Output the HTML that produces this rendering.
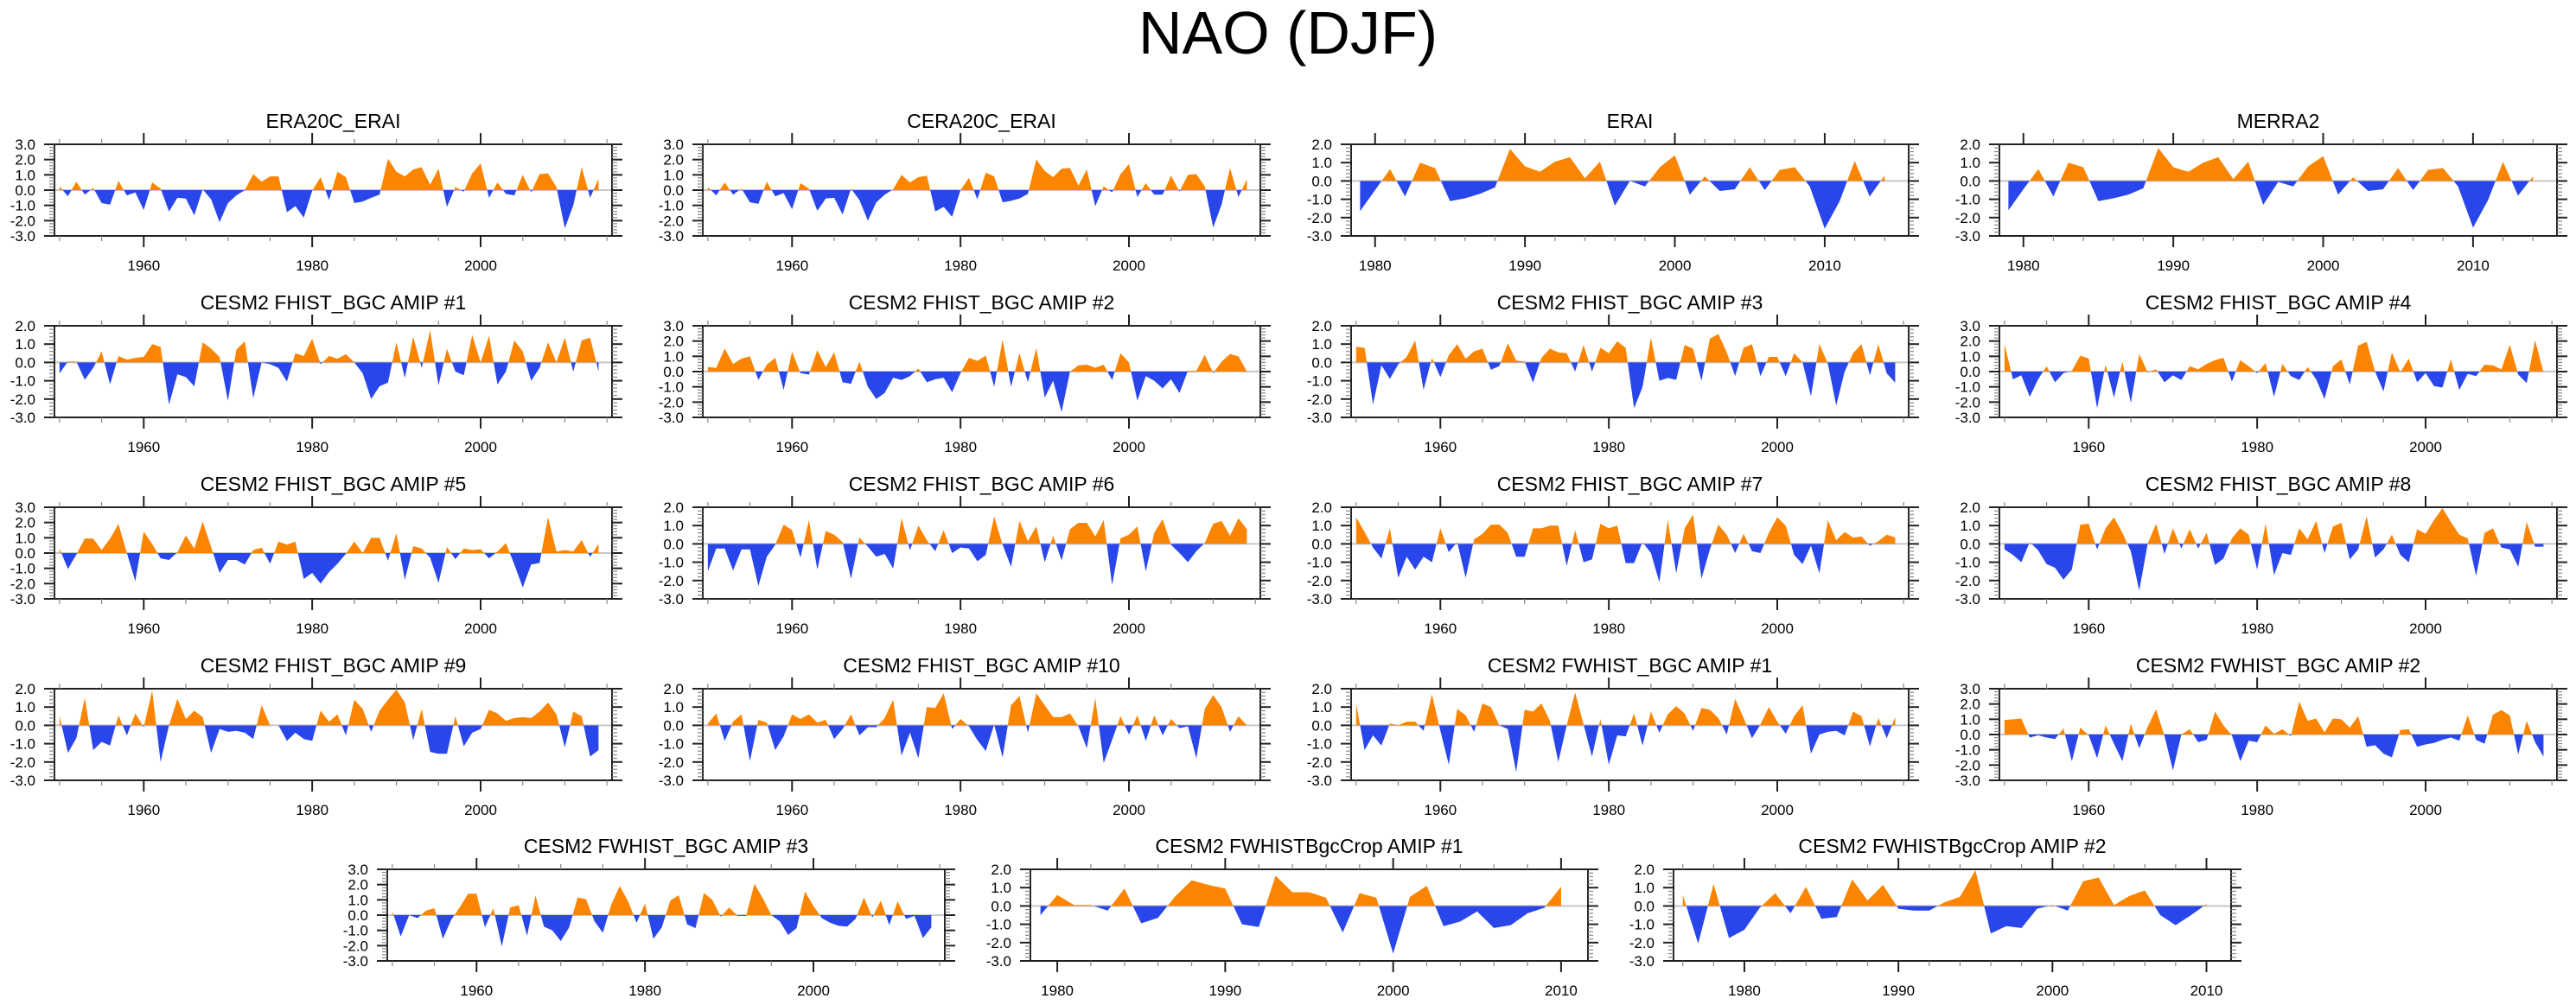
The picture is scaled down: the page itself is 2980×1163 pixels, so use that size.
<!DOCTYPE html>
<html><head><meta charset="utf-8">
<style>
html,body{margin:0;padding:0;background:#fff;}
svg{display:block;font-family:"Liberation Sans",Arial,sans-serif;}
</style></head>
<body>
<svg id="chart" width="2980" height="1163" viewBox="0 0 2980 1163" xmlns="http://www.w3.org/2000/svg">
<rect x="0" y="0" width="2980" height="1163" fill="#fff"/>
<text x="1490" y="62" font-size="70" text-anchor="middle" fill="#000">NAO (DJF)</text>
</svg>
<script>
const titles = ["ERA20C_ERAI","CERA20C_ERAI","ERAI","MERRA2",
"CESM2 FHIST_BGC AMIP #1","CESM2 FHIST_BGC AMIP #2","CESM2 FHIST_BGC AMIP #3","CESM2 FHIST_BGC AMIP #4",
"CESM2 FHIST_BGC AMIP #5","CESM2 FHIST_BGC AMIP #6","CESM2 FHIST_BGC AMIP #7","CESM2 FHIST_BGC AMIP #8",
"CESM2 FHIST_BGC AMIP #9","CESM2 FHIST_BGC AMIP #10","CESM2 FWHIST_BGC AMIP #1","CESM2 FWHIST_BGC AMIP #2",
"CESM2 FWHIST_BGC AMIP #3","CESM2 FWHIST BgcCrop AMIP #1".replace(" Bgc","Bgc"),"CESM2 FWHISTBgcCrop AMIP #2"];
const startYears = [1950,1950,1979,1979, 1950,1950,1950,1950, 1950,1950,1950,1950, 1950,1950,1950,1950, 1950,1979,1976];
const yMaxes = [3,3,2,2, 2,3,2,3, 3,2,2,2, 2,2,2,3, 3,2,2];

const era20c = [0.25,-0.4,0.55,-0.3,0.15,-0.85,-0.95,0.6,-0.35,-0.15,-1.3,0.5,0.1,-1.4,-0.5,-0.55,-1.65,0.05,-0.6,-2.1,-0.85,-0.35,0.0,1.05,0.55,0.9,0.9,-1.45,-1.05,-1.8,-0.05,0.85,-0.65,1.2,0.85,-0.85,-0.75,-0.5,-0.3,2.05,1.2,0.9,1.35,1.5,0.35,1.4,-1.1,0.2,-0.1,1.1,1.75,-0.5,0.5,-0.25,-0.35,1.0,-0.15,1.05,1.1,0.2,-2.5,-1.0,1.5,-0.5,0.75];
const cera20c = [0.2,-0.35,0.5,-0.3,0.1,-0.8,-0.9,0.55,-0.4,-0.2,-1.25,0.45,0.1,-1.35,-0.55,-0.5,-1.6,0.1,-0.65,-2.0,-0.8,-0.3,0.05,1.0,0.5,0.85,0.95,-1.4,-1.1,-1.75,0.0,0.8,-0.6,1.15,0.9,-0.8,-0.7,-0.55,-0.25,2.0,1.25,0.85,1.4,1.45,0.3,1.35,-1.05,0.25,-0.15,1.05,1.7,-0.45,0.45,-0.3,-0.3,0.95,-0.1,1.0,1.05,0.25,-2.45,-0.95,1.45,-0.45,0.7];
const erai = [-1.65,-0.5,0.65,-0.85,1.0,0.7,-1.1,-0.95,-0.7,-0.35,1.75,0.8,0.5,1.05,1.3,0.15,1.05,-1.35,0.0,-0.3,0.75,1.4,-0.75,0.25,-0.55,-0.45,0.75,-0.5,0.6,0.75,-0.3,-2.6,-1.1,1.1,-0.85,0.3];
const merra2 = [-1.6,-0.45,0.65,-0.85,1.0,0.75,-1.1,-0.95,-0.75,-0.4,1.8,0.75,0.5,1.0,1.3,0.1,1.05,-1.3,-0.05,-0.3,0.8,1.35,-0.75,0.2,-0.55,-0.45,0.7,-0.5,0.6,0.7,-0.3,-2.55,-1.05,1.05,-0.8,0.25];
const fhist1 = [-0.6,0.05,0.05,-0.95,-0.3,0.6,-1.2,0.35,0.15,0.25,0.3,1.0,0.85,-2.3,-0.65,-0.8,-1.3,1.1,0.75,0.3,-2.1,0.7,1.15,-1.95,0.0,-0.1,-0.3,-1.05,0.5,0.35,1.3,-0.1,0.35,0.2,0.45,0.0,-0.6,-2.0,-1.3,-1.1,1.1,-0.85,1.4,-0.3,1.75,-1.25,0.75,-0.5,-0.7,1.5,0.0,1.45,-1.2,-0.5,1.2,0.6,-1.0,-0.3,1.1,0.0,1.35,-0.5,1.2,1.35,-0.5];
const fhist2 = [0.3,0.25,1.5,0.5,0.85,1.0,-0.55,0.45,0.9,-1.2,1.3,-0.1,-0.2,1.4,0.3,1.25,-0.7,-0.8,0.65,-1.0,-1.8,-1.4,-0.4,-0.55,-0.3,0.2,-0.7,-0.5,-0.4,-1.35,-0.1,0.9,0.7,1.05,-1.0,2.1,-1.0,1.2,-0.7,1.55,-1.7,-0.6,-2.65,0.0,0.4,0.45,0.25,0.45,-0.55,1.2,0.6,-1.9,-0.3,-0.6,-1.1,-0.5,-1.4,0.05,0.05,1.1,-0.1,0.65,1.15,1.0,0.0];
const fhist3 = [0.85,0.8,-2.3,-0.15,-0.9,-0.1,0.3,1.2,-1.5,0.25,-0.8,0.4,1.0,0.2,0.6,0.75,-0.4,-0.2,1.05,0.1,0.05,-1.1,0.25,0.75,0.55,0.5,-0.5,0.95,-0.5,0.8,0.5,1.15,0.8,-2.5,-1.35,1.35,-1.0,-0.85,-0.95,0.95,0.75,-1.0,1.3,1.55,0.55,-0.75,0.8,1.0,-0.75,0.3,0.3,-0.75,0.5,0.0,-1.85,1.0,-0.05,-2.35,-0.5,0.5,1.0,-0.7,1.0,-0.6,-1.1];
const fhist4 = [1.8,-0.5,-0.25,-1.65,-0.5,0.35,-0.7,-0.1,0.05,1.05,0.85,-2.4,0.45,-1.7,0.65,-2.05,1.15,-0.05,0.15,-0.7,-0.25,-0.55,0.35,0.15,0.5,0.75,0.9,-0.65,0.75,0.35,-0.1,0.55,-1.65,0.5,-0.3,-0.55,0.3,-0.5,-1.8,0.35,0.8,-0.85,1.7,1.95,0.0,-1.3,1.25,-0.05,0.85,-0.7,-0.1,-0.95,-1.05,0.8,-1.2,-0.15,-0.3,0.45,0.4,0.15,1.75,-0.2,-0.75,2.05,-0.05];
const fhist5 = [0.3,-1.05,-0.1,0.95,0.95,0.2,0.95,1.9,0.0,-1.85,1.4,0.6,-0.35,-0.45,0.05,1.15,0.3,2.05,0.4,-1.3,-0.45,-0.45,-0.75,0.2,0.35,-0.7,0.75,0.55,0.75,-1.7,-1.3,-2.0,-1.25,-0.7,-0.05,0.75,0.0,1.0,1.0,-0.5,1.3,-1.75,0.45,0.3,-0.3,-1.95,0.4,-0.4,0.3,0.2,0.25,-0.35,0.1,0.65,-0.75,-2.25,-0.75,-0.65,2.35,0.1,0.2,0.1,0.85,-0.25,0.6];
const fhist6 = [-1.5,-0.25,-0.25,-1.45,-0.3,-0.3,-2.3,-0.7,-0.05,1.05,0.75,-0.75,1.3,-1.4,0.7,0.5,0.1,-1.9,0.35,-0.15,-0.7,-0.55,-1.35,1.4,-0.35,1.0,0.2,-0.4,0.75,-0.5,-0.2,-0.25,-0.95,-0.6,1.5,-0.05,-1.25,1.25,0.15,0.95,-1.0,0.45,-0.9,0.8,1.15,1.15,0.4,1.3,-2.25,0.3,0.5,0.95,-1.5,0.6,1.35,-0.05,-0.5,-1.0,-0.4,0.05,1.1,1.25,0.45,1.4,0.8];
const fhist7 = [1.45,0.65,-0.2,-0.8,0.85,-1.85,-0.7,-1.4,-0.7,-1.0,0.85,-0.45,0.1,-1.85,0.25,0.55,1.05,1.05,0.6,-0.7,-0.7,0.85,0.85,1.0,1.0,-1.2,0.75,-1.0,-0.85,1.1,0.85,1.0,-1.05,-1.05,0.1,-0.5,-2.1,1.3,-1.6,0.85,1.6,-1.9,-0.3,1.05,0.5,-0.5,0.55,-0.4,-0.5,0.6,1.45,1.0,-0.6,-1.1,-0.1,-1.6,1.3,0.2,0.65,0.35,0.4,-0.1,0.15,0.5,0.35];
const fhist8 = [-0.3,-0.6,-1.0,0.1,-0.35,-1.1,-1.3,-1.95,-1.4,1.05,1.1,-0.3,0.85,1.45,0.6,-0.4,-2.55,0.0,1.1,-0.55,0.85,-0.25,0.8,-0.25,0.6,-1.15,-0.8,0.3,0.85,0.5,-1.4,1.1,-1.7,-0.5,-0.6,0.85,0.25,1.25,-0.5,0.95,1.15,-0.85,-0.3,1.5,-0.75,-0.3,0.5,-0.6,-1.0,0.8,0.55,1.3,1.95,1.2,0.5,0.3,-1.75,0.6,0.85,-0.2,-0.3,-1.25,1.2,-0.15,-0.15];
const fhist9 = [0.5,-1.5,-0.7,1.5,-1.35,-0.9,-1.1,0.55,-0.55,0.65,-0.1,1.9,-2.0,0.0,1.45,0.35,0.8,0.45,-1.5,-0.2,-0.35,-0.3,-0.4,-0.75,1.1,0.0,0.0,-0.85,-0.4,-0.75,-0.85,0.8,0.2,0.6,-0.55,1.4,0.9,-0.35,0.8,1.4,1.95,1.25,-0.8,0.9,-1.45,-1.55,-1.55,0.5,-1.15,-0.4,-0.2,0.85,0.65,0.25,0.4,0.45,0.4,0.75,1.25,0.6,-1.2,0.75,0.5,-1.7,-1.35];
const fhist10 = [0.1,0.65,-0.85,0.2,0.6,-1.95,0.3,0.15,-1.35,-0.6,0.6,0.35,0.6,0.15,0.3,-0.75,-0.2,0.6,-0.55,-0.1,-0.1,0.4,1.4,-1.65,-0.4,-1.8,1.0,0.95,1.75,-0.2,0.35,-0.05,-0.8,-1.4,0.05,-1.75,1.1,1.6,-0.4,1.75,1.1,0.45,0.45,0.65,-0.05,-1.25,1.5,-2.05,-0.8,0.5,-0.5,0.55,-0.85,0.55,-0.55,0.35,-0.15,-0.05,-1.8,0.9,1.65,1.0,-0.35,0.5,0.0];
const fwhist1 = [1.2,-1.35,-0.55,-1.1,0.1,0.0,0.2,0.2,-0.3,1.7,-0.3,-2.15,0.9,0.55,-0.35,1.2,1.0,0.0,-0.2,-2.55,0.85,0.75,1.2,0.25,-2.0,0.0,1.8,0.05,-1.7,0.35,-2.15,-0.55,-0.6,0.65,-1.1,0.75,-0.4,0.6,1.05,0.65,-0.3,0.95,0.85,0.4,-0.5,1.45,0.4,-0.7,0.05,1.0,0.2,-0.45,0.5,1.1,-1.55,-0.5,-0.35,-0.3,-0.55,0.75,0.5,-1.15,0.4,-0.7,0.45];
const fwhist2 = [0.95,1.0,1.05,-0.2,-0.05,-0.2,-0.3,0.4,-1.75,0.45,-0.05,-1.55,0.6,-0.6,-1.75,0.7,-0.9,0.5,1.65,-0.1,-2.35,0.0,0.35,-0.5,-0.35,1.5,0.6,-0.05,-1.75,-0.4,-0.5,0.6,0.05,0.35,-0.1,2.15,0.9,1.05,0.15,1.05,1.0,0.45,1.2,-0.8,-0.7,-1.25,-1.5,0.3,0.35,-0.8,-0.65,-0.55,-0.35,-0.2,-0.4,1.25,-0.35,-0.6,1.3,1.6,1.25,-1.3,0.9,-0.5,-1.45];
const fwhist3 = [0.25,-1.4,0.0,-0.2,0.3,0.45,-1.55,-0.3,0.5,1.4,1.4,-0.8,0.45,-2.05,0.5,0.65,-1.35,1.3,-0.75,-1.0,-1.7,-0.8,1.15,1.05,-0.4,-1.15,0.7,1.9,0.9,-0.5,0.75,-1.55,-0.8,0.95,1.3,-0.6,-0.85,1.45,1.0,-0.1,0.5,-0.05,-0.05,2.05,1.1,0.0,-0.4,-1.3,-0.85,1.55,0.6,-0.2,-0.5,-0.7,-0.75,-0.25,1.15,-0.15,0.95,-0.65,0.9,-0.25,-0.05,-1.5,-0.8];
const crop1 = [-0.5,0.6,0.05,0.05,-0.25,0.95,-0.95,-0.65,0.5,1.4,1.15,0.95,-1.0,-1.15,1.65,0.75,0.75,0.45,-1.45,0.7,0.45,-2.6,0.5,1.1,-1.1,-0.85,-0.3,-1.2,-1.05,-0.4,-0.1,1.05];
const crop2 = [0.6,-2.05,1.2,-1.75,-1.3,-0.1,0.7,-0.4,1.05,-0.7,-0.6,1.45,0.3,1.15,-0.15,-0.25,-0.25,0.2,0.5,1.95,-1.5,-1.1,-1.2,-0.15,0.05,-0.25,1.35,1.55,0.05,0.55,0.85,-0.5,-1.05,-0.5,0.1];

const series = [era20c,cera20c,erai,merra2,fhist1,fhist2,fhist3,fhist4,fhist5,fhist6,fhist7,fhist8,fhist9,fhist10,fwhist1,fwhist2,fwhist3,crop1,crop2];

const NS = "http://www.w3.org/2000/svg";
const svg = document.getElementById("chart");
const colLeft = [63, 813, 1563, 2313];
const row5Left = [448, 1192, 1936];
const rowTop = [167, 377, 587, 797, 1006];
const W = 645, H = 106;
const ORANGE = "#fb8400", BLUE = "#2946ea";

function mk(tag, attrs, parent) {
  const e = document.createElementNS(NS, tag);
  for (const k in attrs) e.setAttribute(k, attrs[k]);
  (parent || svg).appendChild(e);
  return e;
}

series.forEach((vals, p) => {
  const row = Math.floor(p / 4);
  const left = row < 4 ? colLeft[p % 4] : row5Left[p - 16];
  const top = rowTop[row];
  const start = startYears[p];
  const end = start + vals.length - 1;
  const xmin = start - 0.6, xmax = end + 1.6;
  const ymin = -3, ymax = yMaxes[p];
  const xs = y => left + (y - xmin) / (xmax - xmin) * W;
  const ys = v => top + (ymax - v) / (ymax - ymin) * H;

  const g = mk("g", {});
  
  

  const t = mk("text", {x: left + W / 2, y: top - 19, "font-size": 23, "text-anchor": "middle", fill: "#000"}, g);
  
  
  t.textContent = titles[p];

  // clip paths
  const cid = "c" + p;
  const defs = mk("defs", {}, g);
  const cpA = mk("clipPath", {id: cid + "a"}, defs);
  mk("rect", {x: left, y: top, width: W, height: ys(0) - top}, cpA);
  const cpB = mk("clipPath", {id: cid + "b"}, defs);
  mk("rect", {x: left, y: ys(0), width: W, height: top + H - ys(0)}, cpB);

  const zl = mk("line", {x1: left, x2: left + W, y1: ys(0), y2: ys(0), stroke: "#c8c8c8", "stroke-width": 2}, g);
  
  

  let d = "M" + xs(start) + "," + ys(0);
  vals.forEach((v, i) => { d += " L" + xs(start + i).toFixed(2) + "," + ys(v).toFixed(2); });
  d += " L" + xs(end) + "," + ys(0) + " Z";
  const pos = mk("path", {d: d, fill: ORANGE, "clip-path": "url(#" + cid + "a)"}, g);
  
  
  const neg = mk("path", {d: d, fill: BLUE, "clip-path": "url(#" + cid + "b)"}, g);
  
  

  const box = mk("rect", {x: left, y: top, width: W, height: H, fill: "none", stroke: "#222", "stroke-width": 2}, g);
  
  

  // y ticks
  for (let k = 0; k <= (ymax - ymin) * 5; k++) {
    const v = ymin + k * 0.2;
    const major = k % 5 === 0;
    const len = major ? 12 : 6;
    const y = ys(v);
    mk("line", {x1: left - len, x2: left, y1: y, y2: y, stroke: major ? "#222" : "#888", "stroke-width": major ? 2 : 1.2}, g);
    mk("line", {x1: left + W, x2: left + W + len, y1: y, y2: y, stroke: major ? "#222" : "#888", "stroke-width": major ? 2 : 1.2}, g);
    if (major) {
      const lab = mk("text", {x: left - 22, y: y + 6, "font-size": 17, "text-anchor": "end", fill: "#000"}, g);
      
      
      lab.textContent = v.toFixed(1);
    }
  }
  // x ticks
  const span = xmax - xmin;
  const majStep = span > 50 ? 20 : 10, minStep = span > 50 ? 5 : 2;
  for (let yr = Math.ceil(xmin); yr <= xmax; yr++) {
    if (yr % minStep !== 0) continue;
    const major = yr % majStep === 0;
    const len = major ? 13 : 6;
    const x = xs(yr);
    mk("line", {x1: x, x2: x, y1: top - len, y2: top, stroke: major ? "#222" : "#888", "stroke-width": major ? 2 : 1.2}, g);
    mk("line", {x1: x, x2: x, y1: top + H, y2: top + H + len, stroke: major ? "#222" : "#888", "stroke-width": major ? 2 : 1.2}, g);
    if (major) {
      const lab = mk("text", {x: x, y: top + H + 40, "font-size": 17, "text-anchor": "middle", fill: "#000"}, g);
      
      
      lab.textContent = yr;
    }
  }
});
</script>
</body></html>
